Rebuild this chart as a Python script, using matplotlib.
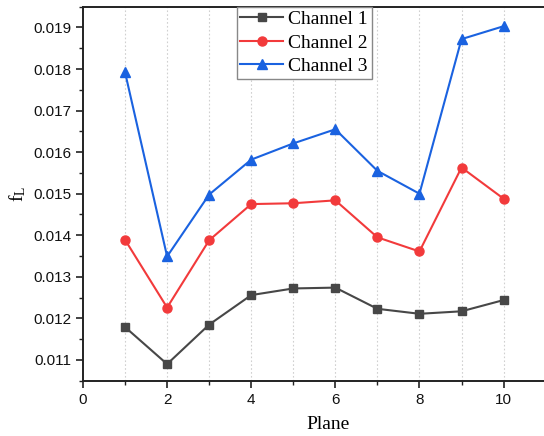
import matplotlib
matplotlib.use("Agg")
import matplotlib.pyplot as plt
from matplotlib.ticker import MultipleLocator

plt.rcParams['mathtext.fontset'] = 'custom'
plt.rcParams['mathtext.rm'] = 'Liberation Serif'
plt.rcParams['mathtext.it'] = 'Liberation Serif:italic'

planes = [1, 2, 3, 4, 5, 6, 7, 8, 9, 10]
channel1 = [0.01179, 0.01090, 0.01185, 0.01256, 0.01272, 0.01274, 0.01223, 0.01211, 0.01217, 0.01244]
channel2 = [0.01389, 0.01226, 0.01388, 0.01475, 0.01477, 0.01484, 0.01395, 0.01361, 0.01563, 0.01488]
channel3 = [0.01792, 0.01349, 0.01498, 0.01582, 0.01621, 0.01655, 0.01555, 0.01500, 0.01872, 0.01903]

fig = plt.figure(figsize=(5.44, 4.36), dpi=100)
ax = fig.add_axes([83 / 544, 1 - 380.7 / 436, 1 - 83 / 544 + 0.003, (380.7 - 6.7) / 436])

ax.plot(planes, channel1, color='#474747', lw=1.5, marker='s', ms=6, label='Channel 1')
ax.plot(planes, channel2, color='#f23a3b', lw=1.5, marker='o', ms=6.5, label='Channel 2')
ax.plot(planes, channel3, color='#1a62e0', lw=1.5, marker='^', ms=7.5, label='Channel 3')

ax.set_xlim(0, 11)
ax.set_ylim(0.0105, 0.0195)
ax.xaxis.set_major_locator(MultipleLocator(2))
ax.xaxis.set_minor_locator(MultipleLocator(1))
ax.yaxis.set_major_locator(MultipleLocator(0.001))
ax.yaxis.set_minor_locator(MultipleLocator(0.0005))
ax.yaxis.set_major_formatter(plt.FormatStrFormatter('%.3f'))

# dotted verticals at every plane
for p in planes:
    ax.axvline(p, color='#d0d0d0', lw=0.8, ls=(0, (1.5, 2)), zorder=0)

for s in ax.spines.values():
    s.set_linewidth(1.4)
    s.set_color('#222222')
ax.spines['right'].set_visible(False)

ax.tick_params(which='major', direction='out', length=5, width=1.2, labelsize=11,
               colors='#222222', labelcolor='#111111')
ax.tick_params(which='minor', direction='out', length=3, width=1.0, colors='#222222')
for lab in ax.get_xticklabels() + ax.get_yticklabels():
    lab.set_family('Liberation Sans')

ax.set_xlabel('Plane', family='Liberation Serif', fontsize=14)
ax.xaxis.set_label_coords(0.529, -0.095)
ax.set_ylabel(r'f$_\mathregular{L}$', family='Liberation Serif', fontsize=14)
ax.yaxis.set_label_coords(-0.118, 0.5)

leg = ax.legend(loc='upper left', bbox_to_anchor=(0.332, 1.0), borderaxespad=0,
                prop={'family': 'Liberation Serif', 'size': 14}, fancybox=False,
                framealpha=1, edgecolor='#888888', labelspacing=0.3,
                handlelength=2.2, handletextpad=0.25, borderpad=0.2)
leg.get_frame().set_linewidth(1.0)

fig.savefig('out.png', dpi=100)
